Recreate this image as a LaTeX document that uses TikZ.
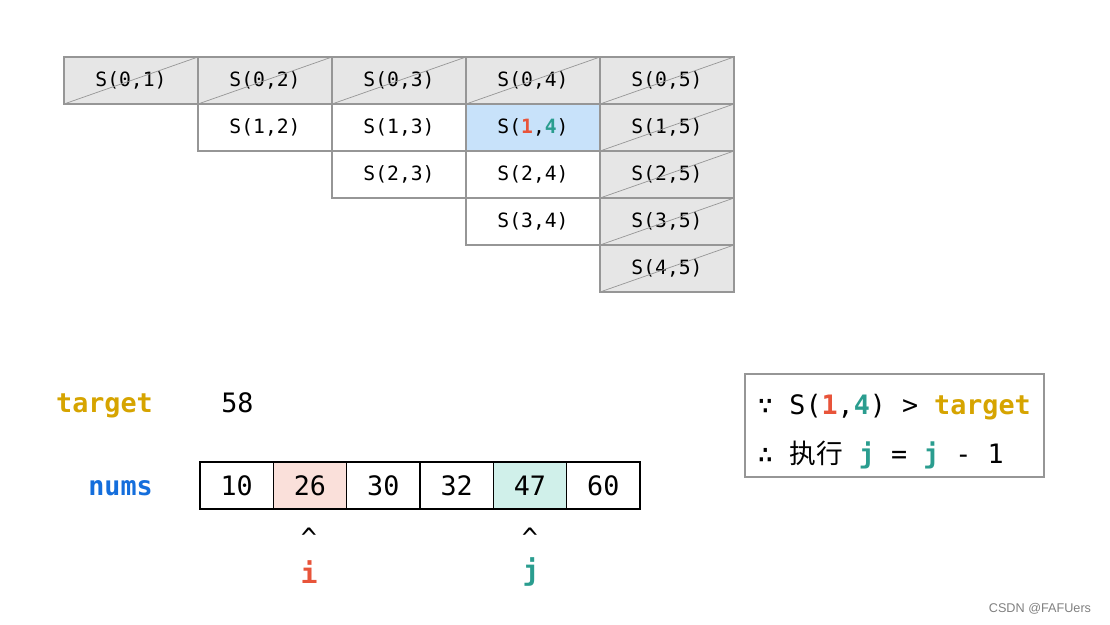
\documentclass[tikz,border=0pt]{standalone}
\usepackage{fontspec}
\setmonofont{DejaVu Sans Mono}
\newfontfamily\cjk{Noto Sans CJK SC}
\newfontfamily\marksf{Liberation Sans}
\usetikzlibrary{positioning}
\definecolor{R}{RGB}{232, 84, 58}
\definecolor{T}{RGB}{42, 157, 143}
\definecolor{Y}{RGB}{214, 164, 0}
\definecolor{Bl}{RGB}{20, 110, 220}
\definecolor{Gr}{RGB}{230, 230, 230}
\definecolor{Ln}{RGB}{150, 150, 150}
\definecolor{Hb}{RGB}{200, 226, 250}
\definecolor{Pk}{RGB}{250, 224, 218}
\definecolor{Mt}{RGB}{208, 240, 234}

\begin{document}
\begin{tikzpicture}[x=0.025cm, y=-0.025cm,
   font=\ttfamily\fontsize{14}{16}\selectfont,
   cell/.style={draw=Ln, line width=1pt, fill=white, inner sep=0pt, outer sep=0pt,
                minimum width=3.35cm, minimum height=1.175cm},
   dead/.style={cell, fill=Gr},
   diag/.style={draw=Ln, line width=0.5pt},
   big/.style={font=\ttfamily\fontsize{19}{21}\selectfont},
   bigbold/.style={font=\ttfamily\bfseries\fontsize{19}{21}\selectfont},
   numbox/.style={big, draw=black, line width=1pt, inner sep=0pt, outer sep=0pt,
                  minimum width=1.833cm, minimum height=1.175cm}]
   \useasboundingbox (0,0) rectangle (1110,624);
   % table of sums S(i,j)
   \foreach \c in {1,...,5}{
      \pgfmathtruncatemacro\rmax{\c-1}
      \foreach \r in {0,...,\rmax}{
         \pgfmathsetmacro\cx{131+134*(\c-1)}
         \pgfmathsetmacro\cy{80.5+47*\r}
         \ifnum\r\c=14
            \node[cell, fill=Hb] (s\r\c) at (\cx,\cy)
               {S({\color{R}\bfseries 1},{\color{T}\bfseries 4})};
         \else
            \ifnum\r=0 \def\kind{dead}\else
               \ifnum\c=5 \def\kind{dead}\else \def\kind{cell}\fi\fi
            \node[\kind] (s\r\c) at (\cx,\cy) {S(\r,\c)};
         \fi
      }}
   % crossed out cells
   \foreach \c in {1,...,5}
      \draw[diag] (s0\c.south west) -- (s0\c.north east);
   \foreach \r in {1,...,4}
      \draw[diag] (s\r5.south west) -- (s\r5.north east);
   % target and array
   \node[bigbold, text=Y, anchor=east, inner sep=0pt] (tlabel) at (153,406) {target};
   \node[big, anchor=west, inner sep=0pt] (tval) at (221,403) {58};
   \node[bigbold, text=Bl, anchor=east, inner sep=0pt] (nlabel) at (153,488) {nums};
   \foreach \v/\f [count=\k] in {10/white, 26/Pk, 30/white, 32/white, 47/Mt, 60/white}
      \node[numbox, fill=\f] (n\k) at ({200+73.33*(\k-0.5)},485.5) {\v};
   % pointers
   \node[big] (hati) at (309,538) {\textasciicircum};
   \node[big] (hatj) at (530,538) {\textasciicircum};
   \node[text=R, font=\ttfamily\bfseries\fontsize{20}{22}\selectfont] (pi) at (309,572) {i};
   \node[text=T, font=\ttfamily\bfseries\fontsize{20}{22}\selectfont] (pj) at (531,572) {j};
   % note box
   \node[draw=Ln, line width=1pt, minimum width=7.475cm, minimum height=2.575cm]
      (note) at (894.5,425.5) {};
   \node[big, anchor=west, inner sep=0pt] (because) at (757,407)
      {∵ S({\color{R}\bfseries 1},{\color{T}\bfseries 4}) > {\color{Y}\bfseries target}};
   \node[big, anchor=west, inner sep=0pt] (hence) at (757,455)
      {∴ {\cjk 执行} {\color{T}\bfseries j} = {\color{T}\bfseries j} - 1};
   \node[font=\marksf\fontsize{9}{10}\selectfont, text=gray, anchor=east] (mark) at (1096,609)
      {CSDN @FAFUers};
\end{tikzpicture}
\end{document}
